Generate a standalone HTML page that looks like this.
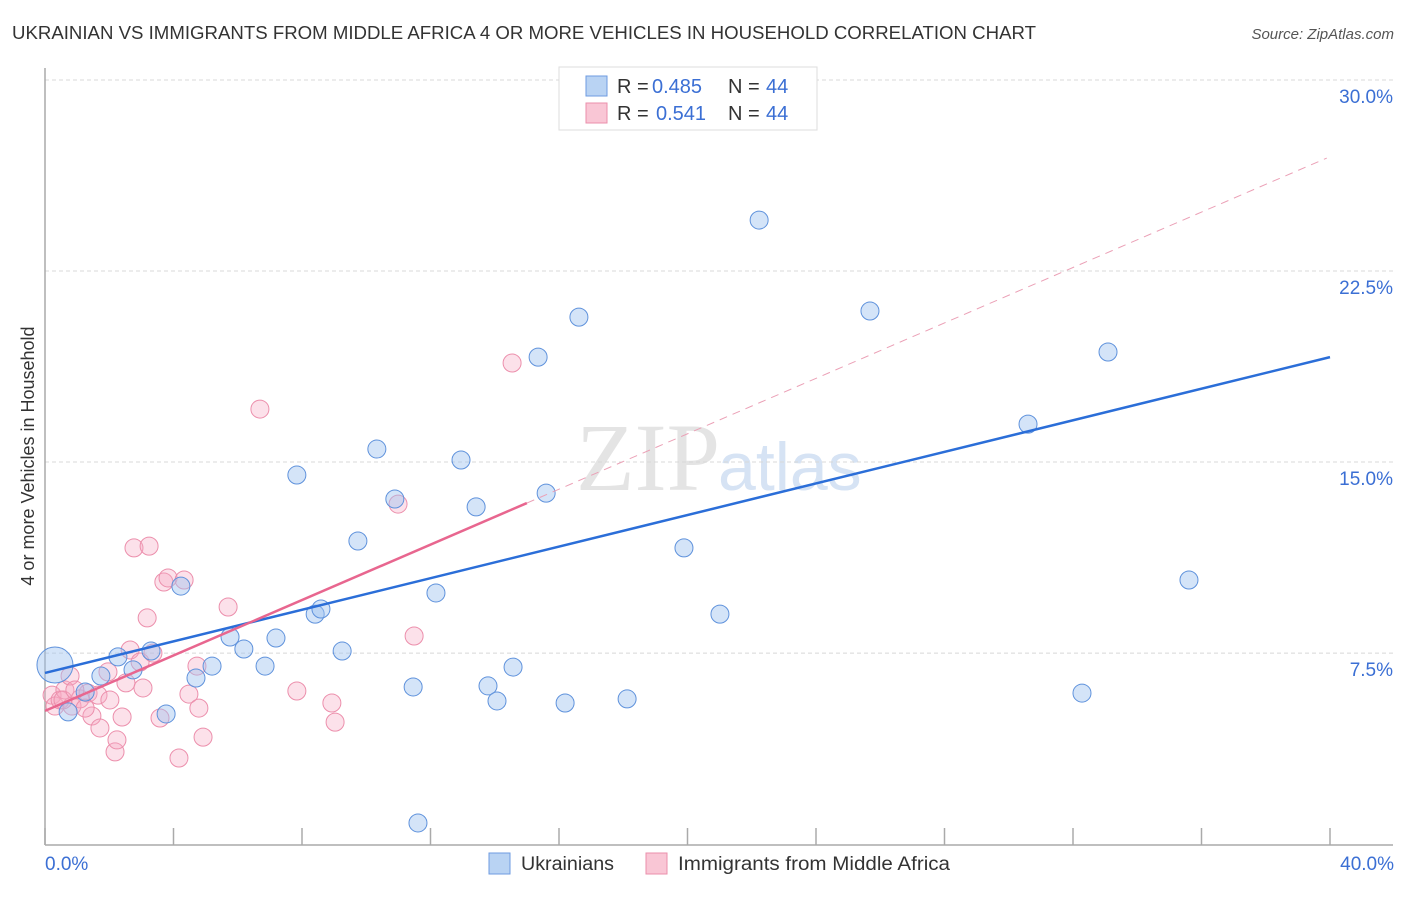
<!DOCTYPE html>
<html><head><meta charset="utf-8"><style>
body{margin:0;background:#fff;font-family:"Liberation Sans",sans-serif;}
</style></head><body>
<svg width="1406" height="892" viewBox="0 0 1406 892" xmlns="http://www.w3.org/2000/svg">
<text x="12" y="39" font-size="18" fill="#333" textLength="1024" lengthAdjust="spacingAndGlyphs">UKRAINIAN VS IMMIGRANTS FROM MIDDLE AFRICA 4 OR MORE VEHICLES IN HOUSEHOLD CORRELATION CHART</text>
<text x="1394" y="39" font-size="15" fill="#555" font-style="italic" text-anchor="end">Source: ZipAtlas.com</text>
<text x="720" y="490" font-size="96" fill="#e4e4e4" font-family="Liberation Serif,serif" text-anchor="end">ZIP</text>
<text x="718" y="490" font-size="68" fill="#d6e3f4">atlas</text>
<g id="grid"></g>
<g id="axes"></g>
<g id="pts"></g>
<g id="lines"></g>
<text transform="translate(34,456) rotate(-90)" font-size="18" fill="#333" text-anchor="middle">4 or more Vehicles in Household</text>
<text x="45" y="870" font-size="19" fill="#3b6fd4">0.0%</text>
<text x="1394" y="870" font-size="19" fill="#3b6fd4" text-anchor="end">40.0%</text>
<g>
<rect x="559" y="67" width="258" height="63" fill="#fff" stroke="#ddd"/>
<rect x="586" y="76" width="21" height="20" fill="#b9d3f3" stroke="#6e9be0"/>
<rect x="586" y="103" width="21" height="20" fill="#f9c6d5" stroke="#eb8fab"/>
<text x="617" y="93" font-size="20" fill="#333">R = <tspan x="652" fill="#3b6fd4">0.485</tspan></text>
<text x="728" y="93" font-size="20" fill="#333">N = <tspan x="766" fill="#3b6fd4">44</tspan></text>
<text x="617" y="120" font-size="20" fill="#333">R = <tspan x="656" fill="#3b6fd4">0.541</tspan></text>
<text x="728" y="120" font-size="20" fill="#333">N = <tspan x="766" fill="#3b6fd4">44</tspan></text>
</g>
<g>
<rect x="489" y="853" width="21" height="21" fill="#b9d3f3" stroke="#6e9be0"/>
<text x="521" y="870" font-size="19" fill="#333" textLength="93" lengthAdjust="spacingAndGlyphs">Ukrainians</text></g>
<g>
<rect x="646" y="853" width="21" height="21" fill="#f9c6d5" stroke="#eb8fab"/>
<text x="678" y="870" font-size="19" fill="#333" textLength="272" lengthAdjust="spacingAndGlyphs">Immigrants from Middle Africa</text></g>
</svg>
<script>
const yTicks=[7.5,15,22.5,30];
const yTickLabels=["7.5%","15.0%","22.5%","30.0%"];
const xTicks=[0,4,8,12,16,20,24,28,32,36,40];
const blueX=[0.31,0.72,1.25,1.74,2.27,2.74,3.30,3.77,4.23,4.70,5.20,5.76,6.19,6.85,7.19,7.84,8.41,8.59,9.25,9.74,10.33,10.89,11.46,11.61,12.17,12.95,13.42,13.79,14.07,14.57,15.35,15.60,16.19,16.62,18.12,19.89,21.01,22.23,25.68,30.60,32.28,33.09,35.61];
const blueY=[7.03,5.19,5.97,6.60,7.35,6.84,7.58,5.11,10.13,6.52,6.99,8.13,7.66,6.99,8.09,14.49,9.03,9.23,7.58,11.90,15.51,13.55,6.17,0.83,9.86,15.08,13.24,6.21,5.62,6.95,19.12,13.78,5.54,20.69,5.70,11.63,9.03,24.50,20.93,16.49,5.93,19.32,10.37];
const pinkX=[0.22,0.31,0.47,0.62,0.78,0.84,1.09,1.34,1.46,1.65,1.71,1.96,2.02,2.18,2.24,2.40,2.52,2.65,2.77,2.96,3.05,3.18,3.24,3.36,3.58,3.70,3.83,4.17,4.33,4.48,4.73,4.79,4.92,5.70,6.69,7.84,8.93,9.03,10.99,11.49,14.54,0.56,0.93,1.25];
const pinkY=[5.85,5.42,5.66,6.05,6.60,5.42,5.70,5.93,5.03,5.85,4.56,6.76,5.66,3.62,4.09,4.99,6.33,7.62,11.63,7.15,6.13,8.88,11.70,7.50,4.95,10.29,10.45,3.38,10.37,5.89,6.99,5.34,4.20,9.31,17.08,6.01,5.54,4.79,13.35,8.17,18.89,5.66,6.05,5.34];
const blueLine=[6.72,19.12];
const pinkLine=[5.23,0.544,15.0];
const X=v=>45+v*32.125, Y=v=>80+(30-v)*25.47;
const NS="http://www.w3.org/2000/svg";
function mk(t,a,p){const e=document.createElementNS(NS,t);for(const k in a)e.setAttribute(k,a[k]);p.appendChild(e);return e;}
const grid=document.getElementById('grid'),axes=document.getElementById('axes'),pts=document.getElementById('pts'),lines=document.getElementById('lines');
yTicks.forEach((t,i)=>{
 const l=mk('line',{x1:45,x2:1393,y1:Y(t),y2:Y(t),stroke:'#d8d8d8','stroke-dasharray':'4,3'},grid);
 
 
 const tx=mk('text',{x:1393,y:Y(t)+23,'font-size':19,fill:'#3b6fd4','text-anchor':'end'},grid);
 tx.textContent=yTickLabels[i];
 
 
});
const ya=mk('line',{x1:45,x2:45,y1:68,y2:845,stroke:'#aaa','stroke-width':1.5},axes);


const xa=mk('line',{x1:45,x2:1393,y1:845,y2:845,stroke:'#aaa','stroke-width':1.5},axes);


xTicks.forEach(t=>{const l=mk('line',{x1:X(t),x2:X(t),y1:828,y2:845,stroke:'#aaa','stroke-width':1.5},axes);
 
 });
pinkX.forEach((x,i)=>{const c=mk('circle',{cx:X(x),cy:Y(pinkY[i]),r:9,fill:'rgba(246,170,195,0.35)',stroke:'#ec8fac','stroke-width':1},pts);
 
 });
blueX.forEach((x,i)=>{const c=mk('circle',{cx:X(x),cy:Y(blueY[i]),r:i===0?18:9,fill:'rgba(160,195,240,0.45)',stroke:'#5f92dc','stroke-width':1},pts);
 
 });
const bl=mk('line',{x1:X(0),y1:Y(blueLine[0]),x2:X(40),y2:Y(blueLine[1]),stroke:'#2b6ed8','stroke-width':2.5},lines);


const pe=pinkLine[2];
const pl=mk('line',{x1:X(0),y1:Y(pinkLine[0]),x2:X(pe),y2:Y(pinkLine[0]+pinkLine[1]*pe),stroke:'#e8668f','stroke-width':2.5},lines);


const pd=mk('line',{x1:X(pe),y1:Y(pinkLine[0]+pinkLine[1]*pe),x2:X(39.9),y2:Y(pinkLine[0]+pinkLine[1]*39.9),stroke:'#eba0b6','stroke-width':1,'stroke-dasharray':'8,6'},lines);


</script>
</body></html>
